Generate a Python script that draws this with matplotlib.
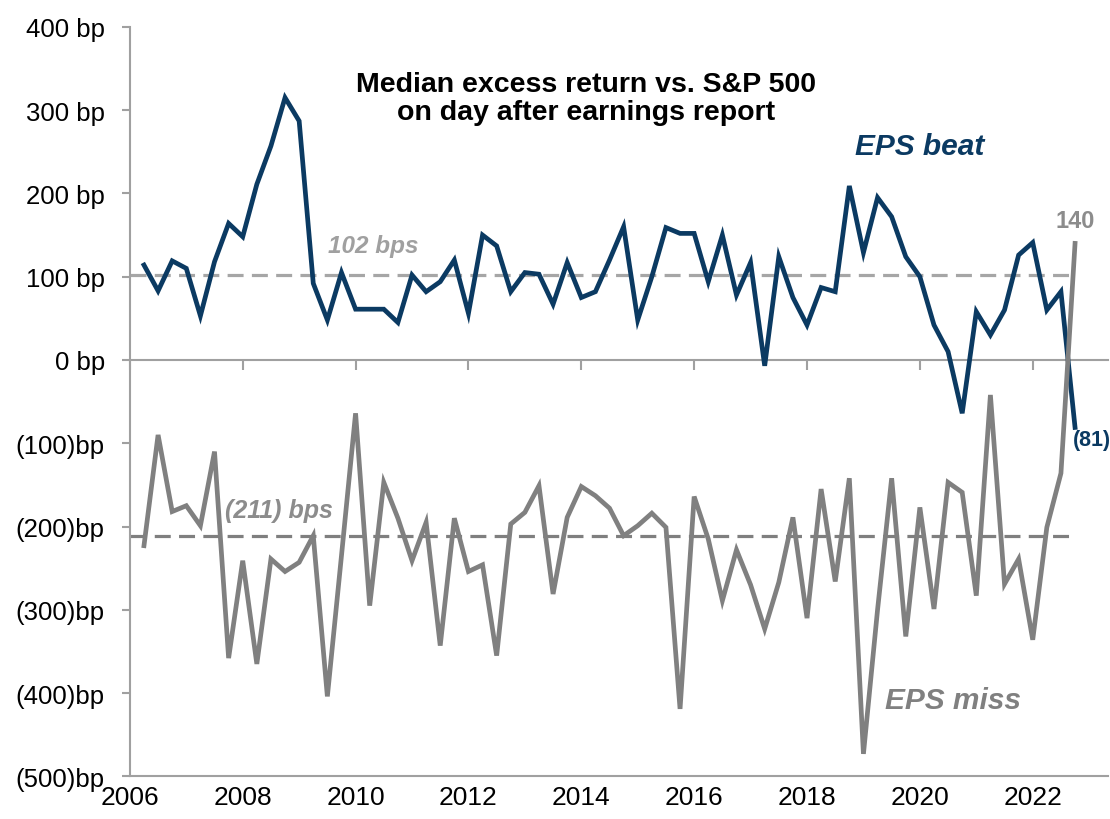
import numpy as np
import matplotlib
matplotlib.use('Agg')
import matplotlib.pyplot as plt
from matplotlib.ticker import FuncFormatter

plt.rcParams['font.family'] = ['Liberation Sans', 'DejaVu Sans']

# quarterly observations, 2006Q2 .. 2022Q4
dates = 2006.25 + 0.25 * np.arange(67)

eps_beat = [114, 83, 119, 110, 53, 118, 164, 148, 211, 257, 315, 287,
            92, 48, 105, 61, 61, 61, 45, 102, 82, 94, 120, 56,
            150, 137, 82, 105, 103, 67, 117, 75, 82, 120, 160, 48,
            100, 159, 152, 152, 94, 150, 78, 117, -7, 124, 75, 42,
            87, 82, 209, 129, 195, 172, 124, 100, 42, 10, -64, 58,
            30, 60, 126, 141, 60, 82, -81]

eps_miss = [-223, -90, -182, -175, -199, -110, -358, -241, -365, -239, -254, -243,
            -211, -404, -235, -64, -295, -147, -190, -241, -195, -343, -190, -254,
            -246, -355, -197, -183, -151, -281, -189, -152, -163, -178, -211, -199,
            -184, -201, -419, -164, -215, -289, -228, -270, -323, -267, -189, -310,
            -155, -266, -142, -473, -300, -142, -332, -177, -299, -147, -159, -283,
            -42, -269, -239, -336, -201, -136, 140]

beat_avg = 102
miss_avg = -211

navy = '#0b3a62'
gray = '#808080'
axis_gray = '#a0a0a0'

fig = plt.figure(figsize=(11.1, 8.2), dpi=100)
ax = fig.add_axes([0.117, 0.052, 0.881, 0.914])

ax.hlines(beat_avg, 2006, dates[-1], colors='#a6a6a6', linestyles=(0, (5, 2.6)), linewidth=2.3, zorder=2)
ax.hlines(miss_avg, 2006, dates[-1], colors='#7f7f7f', linestyles=(0, (5, 2.6)), linewidth=2.3, zorder=2)

ax.plot(dates, eps_beat, color=navy, linewidth=3.4, solid_joinstyle='miter', zorder=3)
ax.plot(dates, eps_miss, color=gray, linewidth=3.4, solid_joinstyle='miter', zorder=4)

ax.set_xlim(2006, 2023.33)
ax.set_ylim(-500, 400)
ax.set_yticks(np.arange(-500, 401, 100))
ax.set_xticks(np.arange(2006, 2023, 2))


def bp_fmt(v, pos):
    v = int(round(v))
    if v < 0:
        return f'({-v})bp'
    return f'{v} bp'


ax.yaxis.set_major_formatter(FuncFormatter(bp_fmt))

for s in ['top', 'right']:
    ax.spines[s].set_visible(False)
for s in ['left', 'bottom']:
    ax.spines[s].set_color(axis_gray)
    ax.spines[s].set_linewidth(1.5)

ax.tick_params(axis='y', direction='out', length=6, width=1.5, color=axis_gray,
               labelsize=18.5, pad=12)
ax.tick_params(axis='x', length=0, labelsize=19, pad=6)

# horizontal axis line crossing at zero, with year ticks pointing down
zero_ax = ax.secondary_xaxis(5 / 9)
zero_ax.set_xticks(np.arange(2006, 2023, 2))
zero_ax.set_xticklabels([])
zero_ax.tick_params(axis='x', direction='in', length=7, width=1.5, color=axis_gray)
for sp in zero_ax.spines.values():
    sp.set_color(axis_gray)
    sp.set_linewidth(1.5)

ax.text(0.466, 0.905, 'Median excess return vs. S&P 500\non day after earnings report',
        transform=ax.transAxes, ha='center', va='center', fontsize=20.5,
        fontweight='bold', linespacing=1.1)

ax.text(2010.32, 138, '102 bps', color='#a0a0a0', fontsize=17.5, fontweight='bold',
        style='italic', ha='center', va='center')
ax.text(2008.65, -180, '(211) bps', color='#8c8c8c', fontsize=18, fontweight='bold',
        style='italic', ha='center', va='center')
ax.text(2020.0, 257, 'EPS beat', color=navy, fontsize=21.5, fontweight='bold',
        style='italic', ha='center', va='center')
ax.text(2020.58, -408, 'EPS miss', color=gray, fontsize=21.5, fontweight='bold',
        style='italic', ha='center', va='center')
ax.text(dates[-1], 167, '140', color='#8c8c8c', fontsize=17, fontweight='bold',
        ha='center', va='center')
ax.text(dates[-1] - 0.03, -95, '(81)', color=navy, fontsize=15.5, fontweight='bold',
        ha='left', va='center')

fig.savefig('out.png', dpi=100)
